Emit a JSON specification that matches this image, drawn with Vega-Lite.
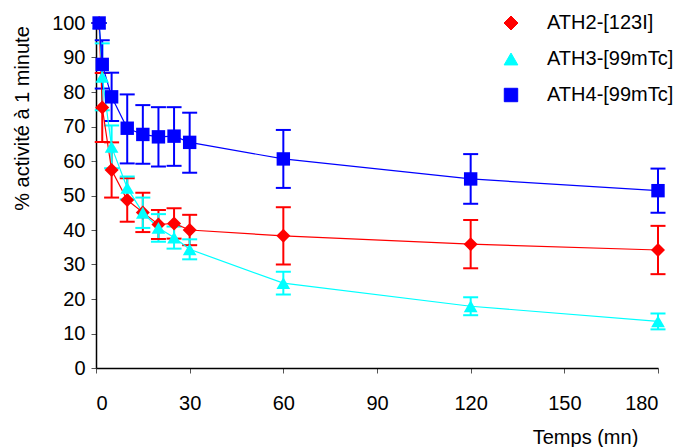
{
  "$schema": "https://vega.github.io/schema/vega-lite/v6.json",
  "width": 562,
  "height": 345,
  "autosize": "none",
  "padding": {"left": 96, "top": 23, "right": 22, "bottom": 79},
  "background": "white",
  "config": {
    "view": {"stroke": null},
    "font": "Liberation Sans",
    "axis": {"grid": false, "domainColor": "black", "domainWidth": 1.5, "tickColor": "#555", "tickSize": 5, "labelFont": "Liberation Sans", "labelFontSize": 20, "labelColor": "black", "labelOverlap": false, "titleFont": "Liberation Sans", "titleFontSize": 20, "titleFontWeight": "normal", "titleColor": "black"}
  },
  "data": {"values": [
    {"s": "ATH2-[123I]", "t": 1, "v": 100, "lo": 100, "hi": 100},
    {"s": "ATH2-[123I]", "t": 2, "v": 75.5, "lo": 65.5, "hi": 85.5},
    {"s": "ATH2-[123I]", "t": 5, "v": 57.4, "lo": 49.4, "hi": 65.4},
    {"s": "ATH2-[123I]", "t": 10, "v": 48.7, "lo": 42.4, "hi": 55.0},
    {"s": "ATH2-[123I]", "t": 15, "v": 45.1, "lo": 39.4, "hi": 50.8},
    {"s": "ATH2-[123I]", "t": 20, "v": 41.6, "lo": 37.4, "hi": 45.8},
    {"s": "ATH2-[123I]", "t": 25, "v": 41.9, "lo": 37.5, "hi": 46.3},
    {"s": "ATH2-[123I]", "t": 30, "v": 40.0, "lo": 35.6, "hi": 44.4},
    {"s": "ATH2-[123I]", "t": 60, "v": 38.3, "lo": 30.0, "hi": 46.6},
    {"s": "ATH2-[123I]", "t": 120, "v": 35.9, "lo": 28.9, "hi": 42.9},
    {"s": "ATH2-[123I]", "t": 180, "v": 34.2, "lo": 27.2, "hi": 41.2},
    {"s": "ATH3-[99mTc]", "t": 1, "v": 100, "lo": 100, "hi": 100},
    {"s": "ATH3-[99mTc]", "t": 2, "v": 84.4, "lo": 74.7, "hi": 94.1},
    {"s": "ATH3-[99mTc]", "t": 5, "v": 64.1, "lo": 57.9, "hi": 70.3},
    {"s": "ATH3-[99mTc]", "t": 10, "v": 52.2, "lo": 48.9, "hi": 55.5},
    {"s": "ATH3-[99mTc]", "t": 15, "v": 45.0, "lo": 40.6, "hi": 49.4},
    {"s": "ATH3-[99mTc]", "t": 20, "v": 40.6, "lo": 36.6, "hi": 44.6},
    {"s": "ATH3-[99mTc]", "t": 25, "v": 37.8, "lo": 34.6, "hi": 41.0},
    {"s": "ATH3-[99mTc]", "t": 30, "v": 34.4, "lo": 31.5, "hi": 37.3},
    {"s": "ATH3-[99mTc]", "t": 60, "v": 24.6, "lo": 21.3, "hi": 27.9},
    {"s": "ATH3-[99mTc]", "t": 120, "v": 17.9, "lo": 15.3, "hi": 20.5},
    {"s": "ATH3-[99mTc]", "t": 180, "v": 13.5, "lo": 11.2, "hi": 15.8},
    {"s": "ATH4-[99mTc]", "t": 1, "v": 100, "lo": 100, "hi": 100},
    {"s": "ATH4-[99mTc]", "t": 2, "v": 88.0, "lo": 81.0, "hi": 95.0},
    {"s": "ATH4-[99mTc]", "t": 5, "v": 78.6, "lo": 71.6, "hi": 85.6},
    {"s": "ATH4-[99mTc]", "t": 10, "v": 69.5, "lo": 59.3, "hi": 79.3},
    {"s": "ATH4-[99mTc]", "t": 15, "v": 67.7, "lo": 59.2, "hi": 76.2},
    {"s": "ATH4-[99mTc]", "t": 20, "v": 67.0, "lo": 58.4, "hi": 75.6},
    {"s": "ATH4-[99mTc]", "t": 25, "v": 67.2, "lo": 58.6, "hi": 75.6},
    {"s": "ATH4-[99mTc]", "t": 30, "v": 65.4, "lo": 56.6, "hi": 74.0},
    {"s": "ATH4-[99mTc]", "t": 60, "v": 60.6, "lo": 52.2, "hi": 69.0},
    {"s": "ATH4-[99mTc]", "t": 120, "v": 54.8, "lo": 47.6, "hi": 62.0},
    {"s": "ATH4-[99mTc]", "t": 180, "v": 51.4, "lo": 45.0, "hi": 57.8}
  ]},
  "encoding": {
    "x": {"field": "t", "type": "quantitative", "scale": {"domain": [0, 180], "nice": false},
      "axis": {"values": [0, 30, 60, 90, 120, 150, 180], "labelPadding": 20, "title": "Temps (mn)", "titleAnchor": "start", "titleAlign": "center", "titleBaseline": "middle", "titleX": 489, "titleY": 69}}
  },
  "layer": [
    {
      "mark": {"type": "rule", "strokeWidth": 2},
      "encoding": {
        "y": {"field": "lo", "type": "quantitative", "scale": {"domain": [0, 100], "nice": false},
          "axis": {"values": [0, 10, 20, 30, 40, 50, 60, 70, 80, 90, 100], "tickCount": 11, "labelOverlap": false, "labelPadding": 6, "title": "% activité à 1 minute", "titleAnchor": "start", "titleAlign": "center", "titleBaseline": "middle", "titleX": -74, "titleY": 95, "titleAngle": -90}},
        "y2": {"field": "hi"},
        "color": {"field": "s", "type": "nominal", "scale": {"domain": ["ATH2-[123I]", "ATH3-[99mTc]", "ATH4-[99mTc]"], "range": ["#FF0000", "#00FFFF", "#0000FF"]}}
      }
    },
    {
      "mark": {"type": "tick", "orient": "horizontal", "size": 15, "thickness": 2, "opacity": 1},
      "encoding": {
        "y": {"field": "lo", "type": "quantitative", "axis": {"values": [0, 10, 20, 30, 40, 50, 60, 70, 80, 90, 100], "tickCount": 11, "labelOverlap": false}},
        "color": {"field": "s", "type": "nominal"}
      }
    },
    {
      "mark": {"type": "tick", "orient": "horizontal", "size": 15, "thickness": 2, "opacity": 1},
      "encoding": {
        "y": {"field": "hi", "type": "quantitative", "axis": {"values": [0, 10, 20, 30, 40, 50, 60, 70, 80, 90, 100], "tickCount": 11, "labelOverlap": false}},
        "color": {"field": "s", "type": "nominal"}
      }
    },
    {
      "mark": {"type": "line", "strokeWidth": 1.2},
      "encoding": {
        "y": {"field": "v", "type": "quantitative", "axis": {"values": [0, 10, 20, 30, 40, 50, 60, 70, 80, 90, 100], "tickCount": 11, "labelOverlap": false}},
        "color": {"field": "s", "type": "nominal",
          "legend": {"title": null, "orient": "none", "legendX": 405, "legendY": -10, "padding": 0,
            "symbolSize": 160, "symbolStrokeWidth": 1, "labelFontSize": 20, "labelFont": "Liberation Sans", "labelColor": "black", "labelOffset": 26, "rowPadding": 16}}
      }
    },
    {
      "mark": {"type": "point", "filled": true, "opacity": 1, "strokeWidth": 0},
      "encoding": {
        "y": {"field": "v", "type": "quantitative", "axis": {"values": [0, 10, 20, 30, 40, 50, 60, 70, 80, 90, 100], "tickCount": 11, "labelOverlap": false}},
        "fill": {"field": "s", "type": "nominal", "scale": {"domain": ["ATH2-[123I]", "ATH3-[99mTc]", "ATH4-[99mTc]"], "range": ["#FF0000", "#00FFFF", "#0000FF"]}, "legend": null},
        "shape": {"field": "s", "type": "nominal", "scale": {"domain": ["ATH2-[123I]", "ATH3-[99mTc]", "ATH4-[99mTc]"], "range": ["diamond", "triangle-up", "square"]}, "legend": null},
        "size": {"field": "s", "type": "nominal", "scale": {"domain": ["ATH2-[123I]", "ATH3-[99mTc]", "ATH4-[99mTc]"], "range": [196, 180, 130]}, "legend": null}
      }
    }
  ]
}
